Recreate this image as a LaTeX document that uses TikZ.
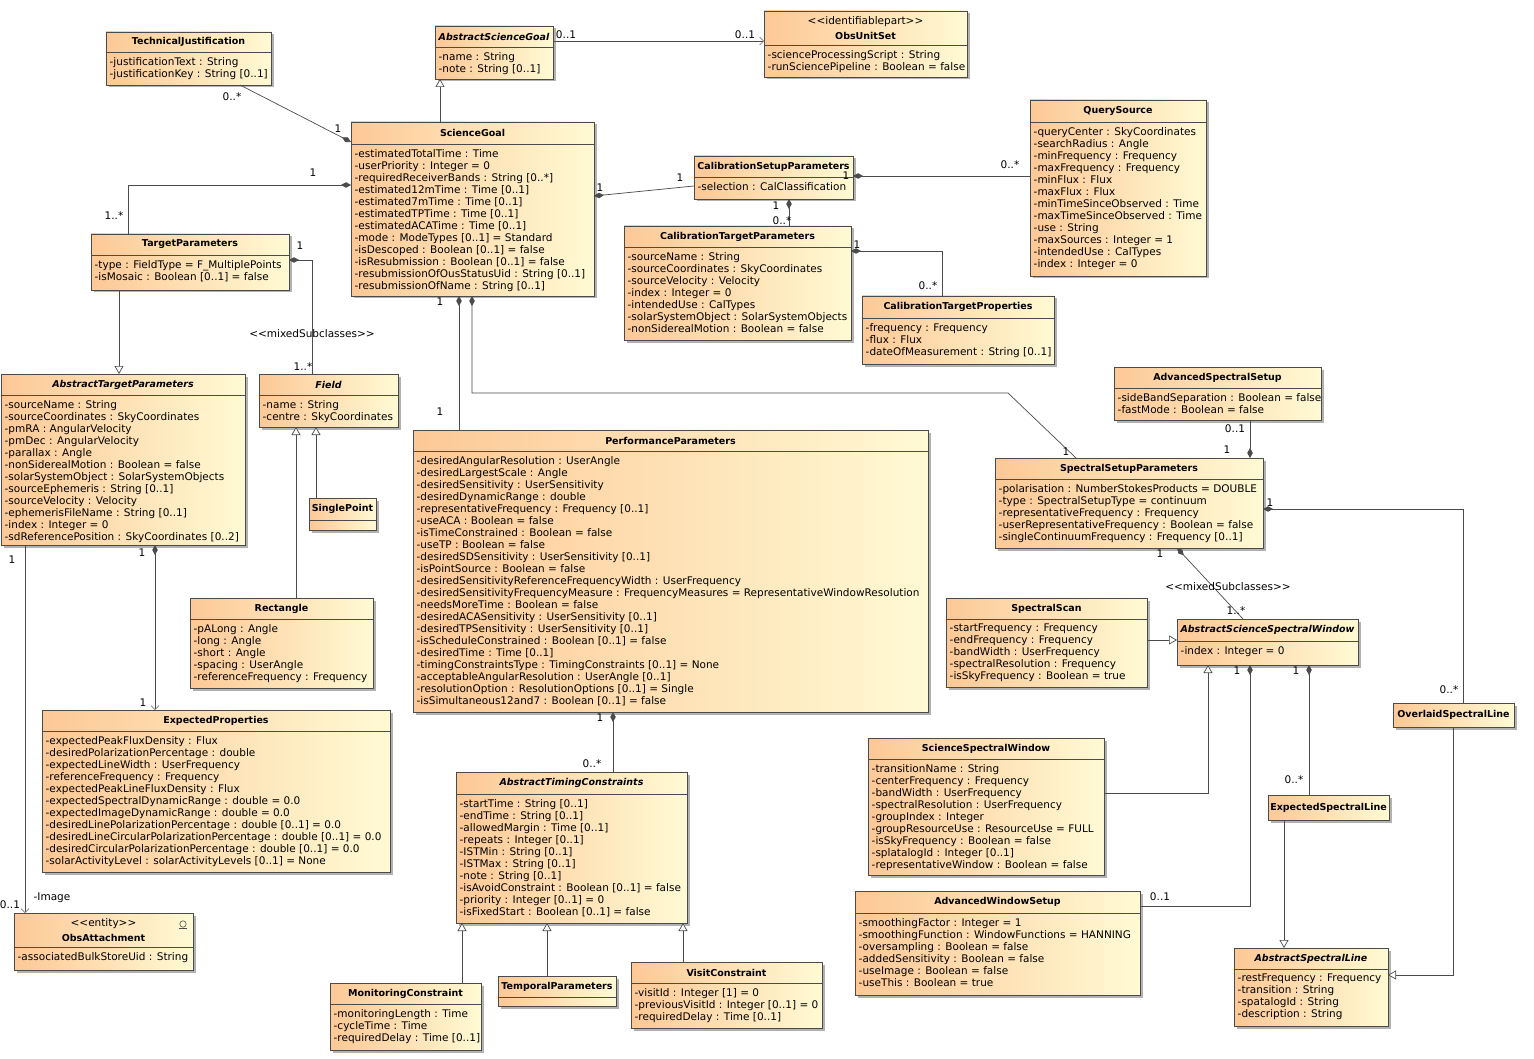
\documentclass[tikz,border=0pt]{standalone}
\usepackage{fontspec}
\setmainfont{DejaVu Sans}
\usetikzlibrary{arrows.meta,shadows}

\definecolor{clsleft}{RGB}{253,200,150}
\definecolor{clsright}{RGB}{255,250,212}
\definecolor{clsline}{RGB}{75,75,75}
\definecolor{navgray}{RGB}{125,125,125}

\newcommand{\stereo}[1]{{\fontsize{10.5}{12}\selectfont\mdseries <\kern0pt<#1>\kern0pt>}}

% \umlclass{id}{x}{y}{width}{height}{header height}{title}{attributes}
\newcommand{\umlclass}[8]{%
  \node[classbox, minimum width=#4pt, minimum height=#5pt] (#1) at (#2,#3) {};
  \draw[clsline, line width=0.8pt] ([yshift=-#6pt]#1.north west) -- ([yshift=-#6pt]#1.north east);
  \node[classtitle] (#1-title) at ([yshift=-#6pt/2]#1.north) {#7};
  \node[classattr] (#1-attr) at ([yshift=-#6pt]#1.north west) {#8};
}

\begin{document}
\begin{tikzpicture}[x=1pt, y=-1pt,
    classbox/.style={draw=clsline, line width=0.8pt, left color=clsleft, right color=clsright,
      anchor=north west, inner sep=0pt, outer sep=0pt,
      drop shadow={shadow xshift=2.5pt, shadow yshift=-2.5pt, fill=black!30, opacity=1}},
    classtitle/.style={font=\fontsize{9.5}{15}\selectfont\bfseries, align=center, inner sep=0pt},
    classattr/.style={font=\fontsize{10.5}{12}\selectfont, align=left, anchor=north west,
      inner xsep=3.5pt, inner ysep=5pt, execute at begin node=\strut},
    assoc/.style={draw=clsline, line width=0.7pt},
    comp/.style={assoc, {Diamond[length=10pt,width=5.5pt]}-},
    compnav/.style={assoc, {Diamond[length=10pt,width=5.5pt]}-{Straight Barb[length=4pt,width=8pt,color=navgray]}},
    gen/.style={assoc, -{Triangle[open,length=8pt,width=9pt,fill=white]}},
    nav/.style={assoc, -{Straight Barb[length=4pt,width=8pt,color=navgray]}},
    mult/.style={font=\fontsize{10.5}{12}\selectfont, inner sep=0pt}]
  \useasboundingbox (0,0) rectangle (1534,1059);

  % Top row
  \umlclass{tj}{106}{32}{165}{53}{20}{TechnicalJustification}
    {-justificationText : String\\-justificationKey : String [0..1]}
  \umlclass{asg}{435}{26}{118}{53}{21}{\itshape AbstractScienceGoal}
    {-name : String\\-note : String [0..1]}
  \umlclass{ous}{764}{11}{203}{66}{34}{\stereo{identifiablepart}\\ObsUnitSet}
    {-scienceProcessingScript : String\\-runSciencePipeline : Boolean = false}

  % Science goal and calibration
  \umlclass{sg}{351}{122}{243}{174}{22}{ScienceGoal}
    {-estimatedTotalTime : Time\\-userPriority : Integer = 0\\-requiredReceiverBands : String [0..*]\\
     -estimated12mTime : Time [0..1]\\-estimated7mTime : Time [0..1]\\-estimatedTPTime : Time [0..1]\\
     -estimatedACATime : Time [0..1]\\-mode : ModeTypes [0..1] = Standard\\-isDescoped : Boolean [0..1] = false\\
     -isResubmission : Boolean [0..1] = false\\-resubmissionOfOusStatusUid : String [0..1]\\-resubmissionOfName : String [0..1]}
  \umlclass{csp}{694}{156}{159}{43}{21}{CalibrationSetupParameters}
    {-selection : CalClassification}
  \umlclass{qs}{1030}{100}{176}{176}{22}{QuerySource}
    {-queryCenter : SkyCoordinates\\-searchRadius : Angle\\-minFrequency : Frequency\\-maxFrequency : Frequency\\
     -minFlux : Flux\\-maxFlux : Flux\\-minTimeSinceObserved : Time\\-maxTimeSinceObserved : Time\\
     -use : String\\-maxSources : Integer = 1\\-intendedUse : CalTypes\\-index : Integer = 0}
  \umlclass{ctp}{624}{226}{227}{114}{21}{CalibrationTargetParameters}
    {-sourceName : String\\-sourceCoordinates : SkyCoordinates\\-sourceVelocity : Velocity\\-index : Integer = 0\\
     -intendedUse : CalTypes\\-solarSystemObject : SolarSystemObjects\\-nonSiderealMotion : Boolean = false}
  \umlclass{ctpr}{862}{296}{192}{68}{22}{CalibrationTargetProperties}
    {-frequency : Frequency\\-flux : Flux\\-dateOfMeasurement : String [0..1]}

  % Targets
  \umlclass{tp}{91}{234}{198}{56}{21}{TargetParameters}
    {-type : FieldType = F\_MultiplePoints\\-isMosaic : Boolean [0..1] = false}
  \umlclass{atp}{1}{374}{244}{171}{21}{\itshape AbstractTargetParameters}
    {-sourceName : String\\-sourceCoordinates : SkyCoordinates\\-pmRA : AngularVelocity\\-pmDec : AngularVelocity\\
     -parallax : Angle\\-nonSiderealMotion : Boolean = false\\-solarSystemObject : SolarSystemObjects\\
     -sourceEphemeris : String [0..1]\\-sourceVelocity : Velocity\\-ephemerisFileName : String [0..1]\\
     -index : Integer = 0\\-sdReferencePosition : SkyCoordinates [0..2]}
  \umlclass{fld}{259}{374}{139}{53}{21}{\itshape Field}
    {-name : String\\-centre : SkyCoordinates}
  \umlclass{spt}{309}{498}{67}{32}{22}{SinglePoint}{}
  \umlclass{rect}{190}{598}{183}{90}{21}{Rectangle}
    {-pALong : Angle\\-long : Angle\\-short : Angle\\-spacing : UserAngle\\-referenceFrequency : Frequency}
  \umlclass{ep}{42}{710}{348}{162}{21}{ExpectedProperties}
    {-expectedPeakFluxDensity : Flux\\-desiredPolarizationPercentage : double\\-expectedLineWidth : UserFrequency\\
     -referenceFrequency : Frequency\\-expectedPeakLineFluxDensity : Flux\\-expectedSpectralDynamicRange : double = 0.0\\
     -expectedImageDynamicRange : double = 0.0\\-desiredLinePolarizationPercentage : double [0..1] = 0.0\\
     -desiredLineCircularPolarizationPercentage : double [0..1] = 0.0\\-desiredCircularPolarizationPercentage : double [0..1] = 0.0\\
     -solarActivityLevel : solarActivityLevels [0..1] = None}
  \umlclass{oa}{14}{913}{179}{57}{34}{\stereo{entity}\\ObsAttachment}
    {-associatedBulkStoreUid : String}
  \draw[clsline, line width=0.6pt] ([xshift=-10pt,yshift=-11pt]oa.north east) circle (3.2pt);
  \draw[clsline, line width=0.6pt] ([xshift=-14pt,yshift=-15.5pt]oa.north east) -- ([xshift=-6pt,yshift=-15.5pt]oa.north east);

  % Performance and timing
  \umlclass{pp}{413}{430}{515}{282}{21}{PerformanceParameters}
    {-desiredAngularResolution : UserAngle\\-desiredLargestScale : Angle\\-desiredSensitivity : UserSensitivity\\
     -desiredDynamicRange : double\\-representativeFrequency : Frequency [0..1]\\-useACA : Boolean = false\\
     -isTimeConstrained : Boolean = false\\-useTP : Boolean = false\\-desiredSDSensitivity : UserSensitivity [0..1]\\
     -isPointSource : Boolean = false\\-desiredSensitivityReferenceFrequencyWidth : UserFrequency\\
     -desiredSensitivityFrequencyMeasure : FrequencyMeasures = RepresentativeWindowResolution\\
     -needsMoreTime : Boolean = false\\-desiredACASensitivity : UserSensitivity [0..1]\\
     -desiredTPSensitivity : UserSensitivity [0..1]\\-isScheduleConstrained : Boolean [0..1] = false\\
     -desiredTime : Time [0..1]\\-timingConstraintsType : TimingConstraints [0..1] = None\\
     -acceptableAngularResolution : UserAngle [0..1]\\-resolutionOption : ResolutionOptions [0..1] = Single\\
     -isSimultaneous12and7 : Boolean [0..1] = false}
  \umlclass{atc}{456}{772}{231}{151}{22}{\itshape AbstractTimingConstraints}
    {-startTime : String [0..1]\\-endTime : String [0..1]\\-allowedMargin : Time [0..1]\\-repeats : Integer [0..1]\\
     -ISTMin : String [0..1]\\-ISTMax : String [0..1]\\-note : String [0..1]\\
     -isAvoidConstraint : Boolean [0..1] = false\\-priority : Integer [0..1] = 0\\-isFixedStart : Boolean [0..1] = false}
  \umlclass{mc}{330}{983}{151}{67}{21}{MonitoringConstraint}
    {-monitoringLength : Time\\-cycleTime : Time\\-requiredDelay : Time [0..1]}
  \umlclass{tpar}{498}{976}{118}{30}{21}{TemporalParameters}{}
  \umlclass{vc}{631}{962}{191}{66}{21}{VisitConstraint}
    {-visitId : Integer [1] = 0\\-previousVisitId : Integer [0..1] = 0\\-requiredDelay : Time [0..1]}

  % Spectral setup
  \umlclass{ass}{1114}{367}{207}{53}{21}{AdvancedSpectralSetup}
    {-sideBandSeparation : Boolean = false\\-fastMode : Boolean = false}
  \umlclass{ssp}{995}{458}{268}{90}{21}{SpectralSetupParameters}
    {-polarisation : NumberStokesProducts = DOUBLE\\-type : SpectralSetupType = continuum\\
     -representativeFrequency : Frequency\\-userRepresentativeFrequency : Boolean = false\\
     -singleContinuumFrequency : Frequency [0..1]}
  \umlclass{ss}{946}{598}{201}{89}{21}{SpectralScan}
    {-startFrequency : Frequency\\-endFrequency : Frequency\\-bandWidth : UserFrequency\\
     -spectralResolution : Frequency\\-isSkyFrequency : Boolean = true}
  \umlclass{assw}{1177}{619}{181}{46}{22}{\itshape AbstractScienceSpectralWindow}
    {-index : Integer = 0}
  \umlclass{osl}{1393}{703}{121}{24}{24}{OverlaidSpectralLine}{}
  \umlclass{ssw}{868}{738}{236}{137}{21}{ScienceSpectralWindow}
    {-transitionName : String\\-centerFrequency : Frequency\\-bandWidth : UserFrequency\\
     -spectralResolution : UserFrequency\\-groupIndex : Integer\\-groupResourceUse : ResourceUse = FULL\\
     -isSkyFrequency : Boolean = false\\-splatalogId : Integer [0..1]\\-representativeWindow : Boolean = false}
  \umlclass{aws}{855}{891}{285}{104}{22}{AdvancedWindowSetup}
    {-smoothingFactor : Integer = 1\\-smoothingFunction : WindowFunctions = HANNING\\-oversampling : Boolean = false\\
     -addedSensitivity : Boolean = false\\-useImage : Boolean = false\\-useThis : Boolean = true}
  \umlclass{esl}{1268}{795}{121}{25}{25}{ExpectedSpectralLine}{}
  \umlclass{asl}{1234}{948}{154}{78}{21}{\itshape AbstractSpectralLine}
    {-restFrequency : Frequency\\-transition : String\\-spatalogId : String\\-description : String}

  % Connectors
  \draw[nav] ([yshift=-15pt]asg.north east) -- ([yshift=-30pt]ous.north west);
  \draw[gen] ([xshift=89pt]sg.north west) -- ([xshift=5pt]asg.south west);
  \draw[comp] ([yshift=-20pt]sg.north west) -- ([xshift=134pt]tj.south west);
  \draw[comp] ([yshift=-63pt]sg.north west) -| ([xshift=37pt]tp.north west);
  \draw[comp] ([yshift=-74pt]sg.north east) -- ([yshift=-30pt]csp.north west);
  \draw[comp] ([yshift=-20pt]csp.north east) -- ([yshift=-76pt]qs.north west);
  \draw[comp] ([xshift=95pt]csp.south west) -- ([xshift=165pt]ctp.north west);
  \draw[comp] ([yshift=-25pt]ctp.north east) -| ([xshift=80pt]ctpr.north west);
  \draw[gen] ([xshift=28pt]tp.south west) -- ([xshift=118pt]atp.north west);
  \draw[comp] ([yshift=-26pt]tp.north east) -| ([xshift=53pt]fld.north west);
  \draw[gen] ([xshift=106pt]rect.north west) -- ([xshift=37pt]fld.south west);
  \draw[gen] ([xshift=7pt]spt.north west) -- ([xshift=57pt]fld.south west);
  \draw[compnav] ([xshift=154pt]atp.south west) -- ([xshift=113pt]ep.north west);
  \draw[nav] ([xshift=24pt]atp.south west) -- ([xshift=11pt]oa.north west);
  \draw[comp] ([xshift=108pt]sg.south west) -- ([xshift=46pt]pp.north west);
  \coordinate (ssp-bend) at (1008,393);
  \draw[comp] ([xshift=121pt]sg.south west) |- (ssp-bend) -- ([xshift=81pt]ssp.north west);
  \draw[comp] ([xshift=200pt]pp.south west) -- ([xshift=157pt]atc.north west);
  \draw[gen] ([xshift=132pt]mc.north west) -- ([xshift=6pt]atc.south west);
  \draw[gen] ([xshift=49pt]tpar.north west) -- ([xshift=91pt]atc.south west);
  \draw[gen] ([xshift=52pt]vc.north west) -- ([xshift=227pt]atc.south west);
  \draw[comp] ([xshift=255pt]ssp.north west) -- ([xshift=136pt]ass.south west);
  \draw[comp] ([xshift=182pt]ssp.south west) -- ([xshift=66pt]assw.north west);
  \draw[comp] ([yshift=-51pt]ssp.north east) -| ([xshift=70pt]osl.north west);
  \draw[gen] ([yshift=-42pt]ss.north east) -- ([yshift=-21pt]assw.north west);
  \draw[gen] ([yshift=-55pt]ssw.north east) -| ([xshift=31pt]assw.south west);
  \draw[comp] ([xshift=73pt]assw.south west) |- ([yshift=-15pt]aws.north east);
  \draw[comp] ([xshift=132pt]assw.south west) -- ([xshift=41pt]esl.north west);
  \draw[gen] ([xshift=16pt]esl.south west) -- ([xshift=50pt]asl.north west);
  \draw[gen] ([xshift=60pt]osl.south west) |- ([yshift=-27pt]asl.north east);

  % Multiplicities and role names
  \node[mult] (m-asg) at (566,35) {0..1};
  \node[mult] (m-ous) at (745,35) {0..1};
  \node[mult] (m-tj) at (232,97) {0..*};
  \node[mult] (m-sg-tj) at (338,129) {1};
  \node[mult] (m-sg-tp) at (313,173) {1};
  \node[mult] (m-tp) at (114,216) {1..*};
  \node[mult] (m-sg-csp) at (600,188) {1};
  \node[mult] (m-csp) at (680,178) {1};
  \node[mult] (m-csp-qs) at (846,176) {1};
  \node[mult] (m-qs) at (1010,165) {0..*};
  \node[mult] (m-csp-ctp) at (776,206) {1};
  \node[mult] (m-ctp) at (782,221) {0..*};
  \node[mult] (m-ctp-ctpr) at (857,245) {1};
  \node[mult] (m-ctpr) at (928,286) {0..*};
  \node[mult] (m-tp-fld) at (300,246) {1};
  \node[mult] (s-fld) at (312,334) {\stereo{mixedSubclasses}};
  \node[mult] (m-fld) at (303,367) {1..*};
  \node[mult] (m-atp-ep) at (142,553) {1};
  \node[mult] (m-ep) at (143,703) {1};
  \node[mult] (m-atp-oa) at (12,560) {1};
  \node[mult] (m-oa) at (10,905) {0..1};
  \node[mult] (r-oa) at (52,898) {-Image};
  \node[mult] (m-sg-pp) at (440,302) {1};
  \node[mult] (m-pp) at (440,412) {1};
  \node[mult] (m-ssp) at (1066,452) {1};
  \node[mult] (m-pp-atc) at (600,718) {1};
  \node[mult] (m-atc) at (592,764) {0..*};
  \node[mult] (m-ass) at (1235,429) {0..1};
  \node[mult] (m-ssp-ass) at (1227,450) {1};
  \node[mult] (m-ssp-assw) at (1160,554) {1};
  \node[mult] (s-assw) at (1228,587) {\stereo{mixedSubclasses}};
  \node[mult] (m-assw) at (1236,611) {1..*};
  \node[mult] (m-ssp-osl) at (1270,503) {1};
  \node[mult] (m-osl) at (1449,690) {0..*};
  \node[mult] (m-assw-aws) at (1237,671) {1};
  \node[mult] (m-aws) at (1160,897) {0..1};
  \node[mult] (m-assw-esl) at (1296,671) {1};
  \node[mult] (m-esl) at (1294,780) {0..*};
\end{tikzpicture}
\end{document}
